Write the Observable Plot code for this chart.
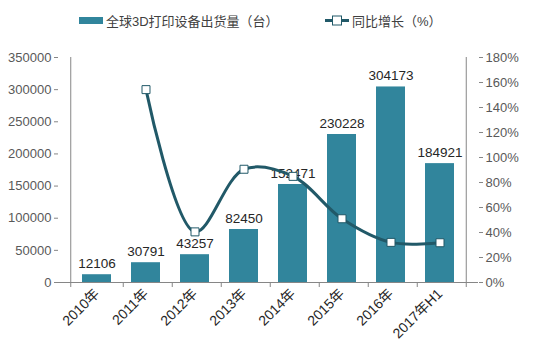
<!DOCTYPE html>
<html><head><meta charset="utf-8">
<script src="https://cdn.jsdelivr.net/npm/d3@7"></script>
<script src="https://cdn.jsdelivr.net/npm/@observablehq/plot@0.6"></script>
<style>
body{margin:0;background:#fff;font-family:"Liberation Sans","Noto Sans CJK SC",sans-serif;}
#wrap{position:relative;width:534px;height:357px;}
.leg{position:absolute;top:0;left:0;width:534px;height:40px;font-size:13px;color:#404040;}
.leg span{position:absolute;top:11px;white-space:nowrap;}
</style></head><body>
<div id="wrap">
<div class="leg">
  <svg width="534" height="40" style="position:absolute;left:0;top:0">
    <rect x="79" y="17" width="24" height="7" fill="#31859C"/>
    <line x1="325" x2="349" y1="20.5" y2="20.5" stroke="#215968" stroke-width="3"/>
    <rect x="332.5" y="16" width="9" height="9" fill="#fff" stroke="#215968" stroke-width="1"/>
  </svg>
  <span style="left:106px">全球3D打印设备出货量（台）</span>
  <span style="left:352px">同比增长（%）</span>
</div>
<div id="chart" style="position:absolute;top:40px;left:0"></div>
</div>
<script>
const categories = ["2010年","2011年","2012年","2013年","2014年","2015年","2016年","2017年H1"];
const shipments = [12106,30791,43257,82450,152471,230228,304173,184921];
const growth = [null,154.3,40.5,90.6,84.9,51.0,32.1,31.8];
const leftTicks = [0,50000,100000,150000,200000,250000,300000,350000];
const rightTicks = [0,20,40,60,80,100,120,140,160,180];
const yMax = 350000, pMax = 180;
const toY = p => p / pMax * yMax;

const bars = categories.map((c,i)=>({c, v: shipments[i]}));
const line = categories.map((c,i)=>({c, p: growth[i]})).filter(d=>d.p!=null);

const W = 534, H = 317, ml = 58, mr = 56;
const step = (W - ml - mr) / categories.length;

const chart = Plot.plot({
  width: W, height: H,
  marginLeft: ml, marginRight: mr, marginTop: 17, marginBottom: 75,
  style: {fontFamily: '"Liberation Sans","Noto Sans CJK SC",sans-serif', fontSize: "12.5px", color: "#595959", background: "#fff"},
  x: {domain: categories, padding: 0.41, label: null},
  y: {domain: [0, yMax], label: null},
  marks: [
    Plot.barY(bars, {x: "c", y: "v", fill: "#31859C"}),
    Plot.text(bars, {x: "c", y: "v", text: d => String(d.v), dy: -11, fill: "#262626", fontSize: 13.5}),
    Plot.line(line, {x: "c", y: d => toY(d.p), stroke: "#215968", strokeWidth: 3, curve: "catmull-rom"}),
    Plot.dot(line, {x: "c", y: d => toY(d.p), symbol: "square", r: 4.5, fill: "#fff", stroke: "#215968", strokeWidth: 1}),
    Plot.axisY({ticks: leftTicks, tickFormat: d => String(d), tickSize: 4, stroke: "#868686", fill: "#595959", label: null, tickPadding: 3, fontSize: 13}),
    Plot.ruleX([0], {x: () => categories[0], dx: -step/2, y1: 0, y2: yMax, stroke: "#868686"}),
    Plot.axisY({anchor: "right", ticks: rightTicks.map(toY), tickFormat: d => Math.round(d / yMax * pMax) + "%", tickSize: 4, stroke: "#868686", fill: "#595959", label: null, tickPadding: 3, fontSize: 13}),
    Plot.ruleX([0], {x: () => categories[categories.length-1], dx: step/2, y1: 0, y2: yMax, stroke: "#868686"}),
    Plot.ruleY([0], {stroke: "#868686"}),
    Plot.axisX({tickRotate: -45, tickSize: 0, tickPadding: 9, fill: "#262626", fontSize: 14, label: null}),
    Plot.axisX({tickSize: 5, text: null, dx: step/2, stroke: "#868686", label: null}),
    Plot.axisX([categories[0]], {tickSize: 5, text: null, dx: -step/2, stroke: "#868686", label: null})
  ]
});
document.getElementById("chart").appendChild(chart);
</script>
</body></html>
